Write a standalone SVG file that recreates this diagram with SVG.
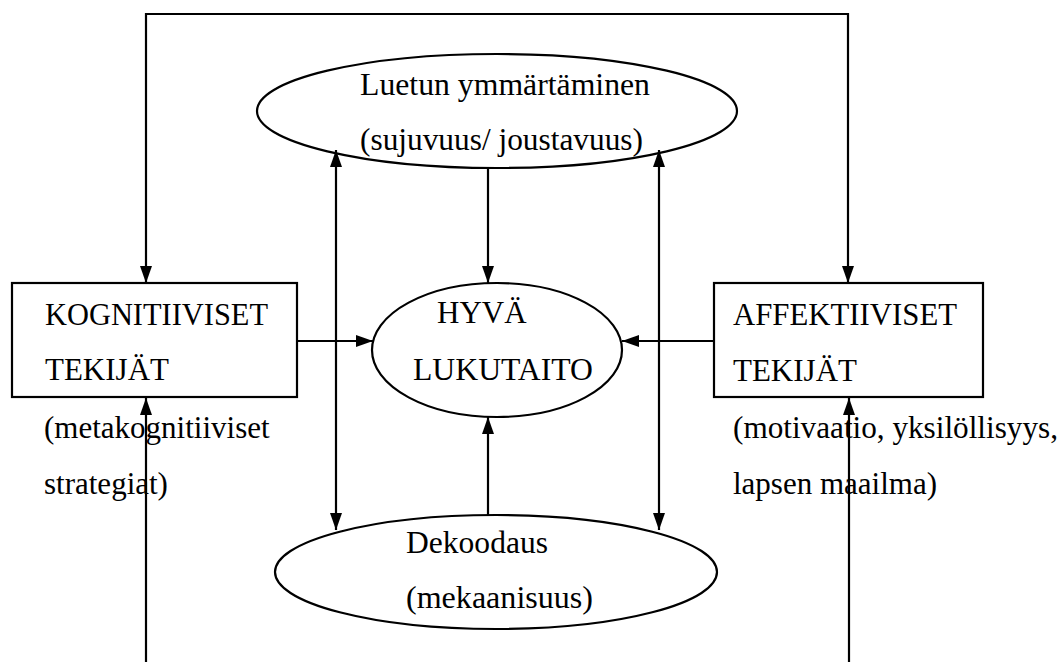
<svg xmlns="http://www.w3.org/2000/svg" width="1063" height="662" viewBox="0 0 1063 662">
<style>
  .shape { fill: #ffffff; stroke: #000000; stroke-width: 2.2; }
  .conn { fill: none; stroke: #000000; stroke-width: 2.2; }
  text { font-family: "Liberation Serif", "Times New Roman", serif; font-size: 31px; fill: #000000; }
</style>
<defs>
  <marker id="arrow" viewBox="0 0 17 12" refX="17" refY="6" markerUnits="userSpaceOnUse" markerWidth="17" markerHeight="12" orient="auto-start-reverse">
    <path d="M0,0 L17,6 L0,12 Z" fill="#000000"/>
  </marker>
</defs>
<rect width="1063" height="662" fill="#ffffff"/>
<g id="connectors">
  <path class="conn" d="M146,283 L146,14 L848,14 L848,283" marker-start="url(#arrow)" marker-end="url(#arrow)"/>
  <path class="conn" d="M146,662 L146,398" marker-end="url(#arrow)"/>
  <path class="conn" d="M849,662 L849,398" marker-end="url(#arrow)"/>
  <path class="conn" d="M336,150 L336,530" marker-start="url(#arrow)" marker-end="url(#arrow)"/>
  <path class="conn" d="M659,150 L659,530" marker-start="url(#arrow)" marker-end="url(#arrow)"/>
  <path class="conn" d="M488,168 L488,283" marker-end="url(#arrow)"/>
  <path class="conn" d="M488,515 L488,417" marker-end="url(#arrow)"/>
  <path class="conn" d="M297,341 L373,341" marker-end="url(#arrow)"/>
  <path class="conn" d="M714,341 L622,341" marker-end="url(#arrow)"/>
</g>
<g id="node-luetun">
  <ellipse class="shape" cx="497" cy="111" rx="240" ry="57" style="fill:none"/>
  <text x="360" y="95" textLength="290" lengthAdjust="spacingAndGlyphs">Luetun ymmärtäminen</text>
  <text x="360" y="150" textLength="283" lengthAdjust="spacingAndGlyphs">(sujuvuus/ joustavuus)</text>
</g>
<g id="node-hyva">
  <ellipse class="shape" cx="497" cy="350" rx="125" ry="67"/>
  <text x="437" y="323">HYVÄ</text>
  <text x="413" y="380" textLength="180" lengthAdjust="spacingAndGlyphs">LUKUTAITO</text>
</g>
<g id="node-dekoodaus">
  <ellipse class="shape" cx="496" cy="572" rx="221" ry="57"/>
  <text x="406" y="553" textLength="142" lengthAdjust="spacingAndGlyphs">Dekoodaus</text>
  <text x="406" y="608" textLength="187" lengthAdjust="spacingAndGlyphs">(mekaanisuus)</text>
</g>
<g id="node-kognitiiviset">
  <rect class="shape" x="12" y="283" width="285" height="114"/>
  <text x="45" y="325" textLength="223" lengthAdjust="spacingAndGlyphs">KOGNITIIVISET</text>
  <text x="45" y="380">TEKIJÄT</text>
  <text x="44" y="438">(metakognitiiviset</text>
  <text x="44" y="494">strategiat)</text>
</g>
<g id="node-affektiiviset">
  <rect class="shape" x="714" y="283" width="269" height="114"/>
  <text x="733" y="325" textLength="224" lengthAdjust="spacingAndGlyphs">AFFEKTIIVISET</text>
  <text x="733" y="381">TEKIJÄT</text>
  <text x="733" y="438" textLength="325" lengthAdjust="spacingAndGlyphs">(motivaatio, yksilöllisyys,</text>
  <text x="733" y="494">lapsen maailma)</text>
</g>
</svg>
